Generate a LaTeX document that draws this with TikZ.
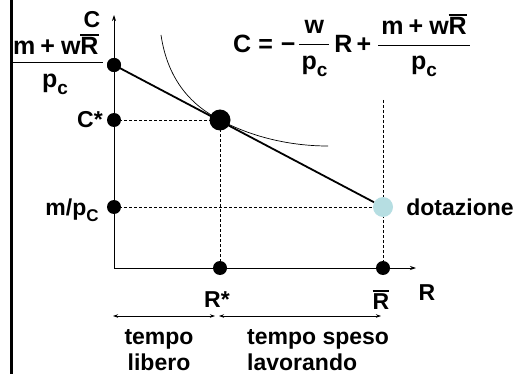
\documentclass[tikz,border=0pt]{standalone}
\usepackage{fontspec}
\setmainfont{Liberation Sans}
\usetikzlibrary{arrows.meta}
\definecolor{dotblue}{RGB}{182,222,226}
\newcommand\Rb{\leavevmode\vbox{\hrule height 1.8pt\kern1.6pt\hbox{R}}}
\newcommand\sbs[1]{\raisebox{-7pt}{\fontsize{19}{19}\selectfont #1}}
\newcommand\sbC[1]{\raisebox{-6pt}{\fontsize{17}{17}\selectfont #1}}
\newcommand\numer{m\hspace{5pt}+\hspace{6pt}w\Rb}
\newcommand\fr[2]{$\vcenter{\hbox{\setlength\arrayrulewidth{1pt}\begin{tabular}{@{}c@{}}#1\\[2pt]\hline\rule{0pt}{24pt}#2\end{tabular}}}$}
\begin{document}
\begin{tikzpicture}[x=1pt,y=-1pt,
  lbl/.style={font=\fontsize{23}{26}\selectfont\bfseries, inner sep=0pt},
  mth/.style={font=\fontsize{25}{28}\selectfont\bfseries, inner sep=0pt},
  sdot/.style={circle, fill=black, minimum size=14pt, inner sep=0pt},
  bdot/.style={circle, fill=black, minimum size=21pt, inner sep=0pt},
  edot/.style={circle, fill=dotblue, minimum size=20pt, inner sep=0pt},
  axis/.style={line width=0.8pt, -{Stealth[length=6pt,width=4pt]}},
  guide/.style={densely dashed, line width=0.7pt},
  span/.style={line width=0.7pt, {Stealth[length=5pt,width=3.5pt]}-{Stealth[length=5pt,width=3.5pt]}}]
\useasboundingbox (0,0) rectangle (527,374);
\draw[line width=3pt] (11,0) -- (11,374);
% axes
\coordinate (O) at (114,268);
\coordinate (ytop) at (114,15);
\coordinate (xend) at (416,268);
\draw[axis] (O) -- (ytop);
\draw[axis] (O) -- (xend);
% guides
\coordinate (vtop) at (383,100);
\node[sdot] (A) at (114,65) {};
\node[sdot] (Cs) at (114,120) {};
\node[sdot] (M) at (114,207) {};
\node[sdot] (Rs) at (220,268) {};
\node[sdot] (Rbd) at (383,268) {};
\draw[guide] (Cs.center) -- (220,120) -- (Rs.center);
\draw[guide] (M.center) -- (383,207);
\draw[guide] (vtop) -- (Rbd.center);
% indifference curve
\coordinate (ic1) at (161,35);
\coordinate (ic2) at (328,146);
\draw[line width=0.7pt] (ic1) .. controls (168,82) and (193,106) .. (220,120)
  .. controls (252,137) and (290,146) .. (ic2);
% budget line
\node[edot] (D) at (383,207) {};
\draw[line width=1.8pt] (A.center) -- (D);
\node[bdot] (E) at (220,120) {};
\node[sdot] at (114,65) {};
% labels
\node[lbl] (Clab) at (92,20) {C};
\node[mth, anchor=base west] (num) at (13,55) {\numer};
\coordinate (b1) at (12,63);
\coordinate (b2) at (103,63);
\draw[line width=1pt] (b1) -- (b2);
\node[mth, anchor=base west] (den) at (42,88) {p\sbs{c}};
\node[lbl] (Cst) at (90,120) {C*};
\node[lbl] (mpc) at (72,210) {m/p\sbC{C}};
\node[lbl] (dot) at (460,207) {dotazione};
\node[lbl] (Rlab) at (427,293) {R};
\node[lbl] (Rstar) at (217,300) {R*};
\node[lbl] (Rbar) at (381,300) {\Rb};
\node[mth, anchor=west] (eq) at (233,46) {C\hspace{7pt}=\hspace{8pt}−\hspace{4pt}\fr{\makebox[30pt]{w}}{p\sbs{c}}\hspace{5pt}R\hspace{4pt}+\hspace{7pt}\fr{\makebox[92pt]{\numer}}{p\sbs{c}}};
% spans
\coordinate (s1) at (113,316);
\coordinate (s2) at (215,316);
\coordinate (s3) at (219,316);
\coordinate (s4) at (381,316);
\draw[span] (s1) -- (s2);
\draw[span] (s3) -- (s4);
\node[lbl, align=center] (tl) at (159,350) {tempo\\libero};
\node[lbl, align=left, anchor=west] (tw) at (247,350) {tempo speso\\lavorando};
\end{tikzpicture}
\end{document}
